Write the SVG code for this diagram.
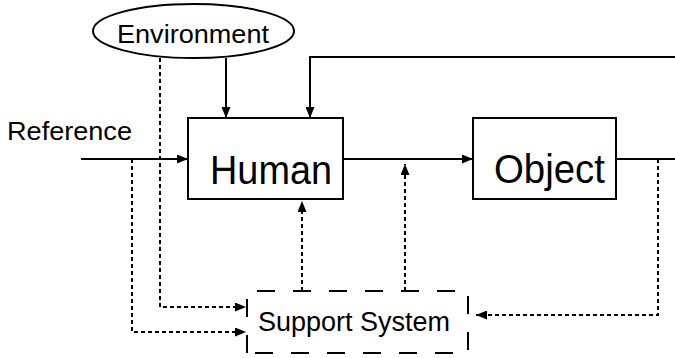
<svg xmlns="http://www.w3.org/2000/svg" width="675" height="358" viewBox="0 0 675 358">
<style>
text{font-family:"Liberation Sans",Arial,sans-serif;fill:#000}
.box{fill:#fff;stroke:#000;stroke-width:2}
.solid{fill:none;stroke:#000;stroke-width:2}
.dot{fill:none;stroke:#000;stroke-width:2;stroke-dasharray:4 3}
</style>
<defs>
<marker id="ah" markerUnits="userSpaceOnUse" markerWidth="11" markerHeight="9" refX="11" refY="4.5" orient="auto">
<path d="M0,0 L11,4.5 L0,9 z" fill="#000"/>
</marker>
</defs>
<rect width="675" height="358" fill="#fff"/>
<g id="connectors">
<path class="solid" d="M81,159 H188" marker-end="url(#ah)"/>
<path class="solid" d="M343,159 H473" marker-end="url(#ah)"/>
<path class="solid" d="M616,159 H675"/>
<path class="solid" d="M226,58 V118" marker-end="url(#ah)"/>
<path class="solid" d="M675,57 H310 V118" marker-end="url(#ah)"/>
<path class="dot" d="M132,159 V332 H246" marker-end="url(#ah)"/>
<path class="dot" d="M160,58 V307 H246" marker-end="url(#ah)"/>
<path class="dot" d="M302,291 V201" marker-end="url(#ah)"/>
<path class="dot" d="M405,291 V164" marker-end="url(#ah)"/>
<path class="dot" d="M658,159 V315 H476" marker-end="url(#ah)"/>
</g>
<g id="environment">
<ellipse class="box" cx="193.5" cy="31" rx="100.5" ry="27"/>
<text x="117" y="43" font-size="25" textLength="152" lengthAdjust="spacingAndGlyphs">Environment</text>
</g>
<g id="reference">
<text x="7" y="140" font-size="25" textLength="125" lengthAdjust="spacingAndGlyphs">Reference</text>
</g>
<g id="human">
<rect class="box" x="188" y="118" width="155" height="81"/>
<text x="210" y="184" font-size="41" textLength="122" lengthAdjust="spacingAndGlyphs">Human</text>
</g>
<g id="object">
<rect class="box" x="473" y="118" width="143" height="81"/>
<text x="494" y="183" font-size="41" textLength="111" lengthAdjust="spacingAndGlyphs">Object</text>
</g>
<g id="support">
<path d="M247,353 V291 H468 V353 Z" fill="none" stroke="#000" stroke-width="2" stroke-dasharray="18 18"/>
<text x="258" y="331" font-size="27" textLength="192" lengthAdjust="spacingAndGlyphs">Support System</text>
</g>
</svg>
